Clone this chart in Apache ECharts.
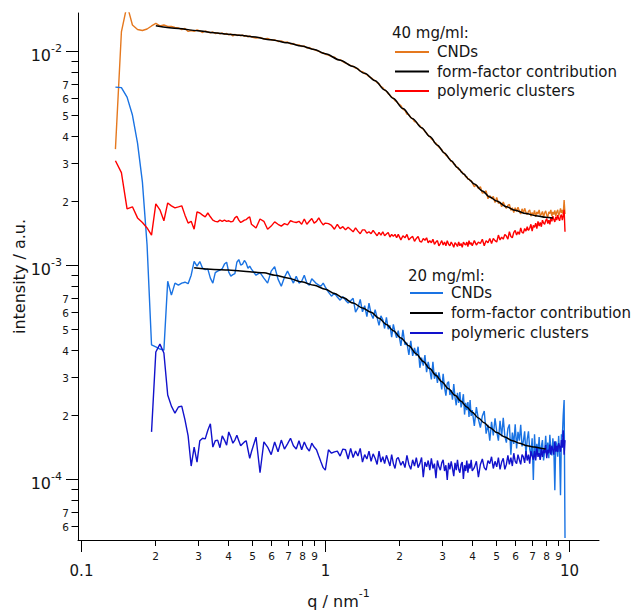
<!DOCTYPE html>
<html><head><meta charset="utf-8">
<script src="https://cdn.jsdelivr.net/npm/echarts@6/dist/echarts.min.js"></script>
<style>html,body{margin:0;padding:0;background:#fff}#chart{width:639px;height:610px}</style>
</head><body><div id="chart"></div>
<script>
// scattering vector q (nm^-1), shared by all measured curves
const q = [0.138,0.146,0.154,0.162,0.17,0.178,0.186,0.194,0.202,0.21,0.218,0.226,0.234,0.242,0.25,0.258,0.266,0.274,0.282,0.29,0.298,0.306,0.314,0.322,0.33,0.338,0.346,0.354,0.362,0.37,0.378,0.386,0.394,0.402,0.41,0.418,0.426,0.434,0.442,0.45,0.458,0.466,0.474,0.482,0.49,0.498,
0.52,0.54,0.56,0.58,0.6,0.62,0.64,0.66,0.68,0.7,0.72,0.74,0.76,0.78,0.8,0.82,0.84,0.86,0.88,0.9,0.92,0.94,0.96,0.98,1,
1.03,1.06,1.09,1.12,1.15,1.18,1.21,1.24,1.27,1.3,1.33,1.36,1.39,1.42,1.45,1.48,1.51,1.54,1.57,1.6,1.63,1.66,1.69,1.72,1.75,1.78,1.81,1.84,1.87,1.9,1.93,1.96,1.99,
2.04,2.08,2.12,2.16,2.2,2.24,2.28,2.32,2.36,2.4,2.44,2.48,2.52,2.56,2.6,2.64,2.68,2.72,2.76,2.8,2.84,2.88,2.92,2.96,3,3.04,3.08,3.12,3.16,3.2,3.24,3.28,3.32,3.36,3.4,3.44,3.48,3.52,3.56,3.6,3.64,3.68,3.72,3.76,3.8,3.84,3.88,3.92,3.96,4,
4.08,4.16,4.24,4.32,4.4,4.48,4.56,4.64,4.72,4.8,4.88,4.96,5.04,5.12,5.2,5.28,5.36,5.44,5.52,5.6,5.68,5.76,5.84,5.92,6,6.08,6.16,6.24,6.32,6.4,6.48,6.56,6.64,6.72,6.8,6.88,6.96,7.04,7.12,7.2,7.28,7.36,7.44,7.52,7.6,7.68,7.76,7.84,7.92,8,8.08,8.16,8.24,8.32,8.4,8.48,8.56,8.64,8.72,8.8,8.88,8.96,9.04,9.12,9.2,9.28,9.36,9.44,9.52,9.6];

// 40 mg/ml: CNDs
const cnd40 = [3.48e-3,1.227e-2,1.64e-2,1.323e-2,1.26e-2,1.247e-2,1.267e-2,1.309e-2,1.345e-2,1.309e-2,
1.323e-2,1.302e-2,1.302e-2,1.288e-2,1.281e-2,1.26e-2,1.274e-2,1.234e-2,1.247e-2,1.234e-2,
1.254e-2,1.24e-2,1.22e-2,1.24e-2,1.227e-2,1.214e-2,1.227e-2,1.207e-2,1.214e-2,1.201e-2,
1.214e-2,1.195e-2,1.207e-2,1.188e-2,1.201e-2,1.176e-2,1.195e-2,1.182e-2,1.188e-2,1.176e-2,
1.188e-2,1.169e-2,1.182e-2,1.163e-2,1.176e-2,1.163e-2,1.15e-2,1.157e-2,1.138e-2,1.144e-2,
1.126e-2,1.126e-2,1.108e-2,1.114e-2,1.096e-2,1.102e-2,1.078e-2,1.084e-2,1.067e-2,1.067e-2,
1.05e-2,1.055e-2,1.033e-2,1.038e-2,1.022e-2,1.016e-2,1.005e-2,1.0e-2,9.82e-3,9.82e-3,
9.66e-3,9.56e-3,9.41e-3,9.36e-3,9.11e-3,9.11e-3,8.92e-3,8.77e-3,8.68e-3,8.54e-3,
8.49e-3,8.31e-3,8.27e-3,8.05e-3,8.01e-3,7.84e-3,7.75e-3,7.59e-3,7.51e-3,7.35e-3,
7.27e-3,7.11e-3,7.04e-3,6.82e-3,6.74e-3,6.56e-3,6.49e-3,6.32e-3,6.22e-3,6.09e-3,
6.02e-3,5.86e-3,5.80e-3,5.68e-3,5.56e-3,5.35e-3,5.27e-3,5.07e-3,5.04e-3,4.88e-3,
4.83e-3,4.68e-3,4.65e-3,4.53e-3,4.48e-3,4.36e-3,4.32e-3,4.20e-3,4.14e-3,4.03e-3,
3.98e-3,3.88e-3,3.84e-3,3.73e-3,3.71e-3,3.62e-3,3.56e-3,3.50e-3,3.46e-3,3.37e-3,
3.34e-3,3.25e-3,3.23e-3,3.16e-3,3.13e-3,3.04e-3,3.04e-3,2.96e-3,2.95e-3,2.87e-3,
2.87e-3,2.79e-3,2.79e-3,2.72e-3,2.72e-3,2.65e-3,2.65e-3,2.58e-3,2.59e-3,2.52e-3,
2.53e-3,2.47e-3,2.48e-3,2.42e-3,2.32e-3,2.37e-3,2.27e-3,2.32e-3,2.17e-3,2.18e-3,
2.22e-3,2.04e-3,2.11e-3,2.04e-3,2.09e-3,1.96e-3,2.07e-3,1.94e-3,1.97e-3,1.87e-3,
1.97e-3,1.89e-3,1.84e-3,1.90e-3,1.92e-3,1.80e-3,1.85e-3,1.76e-3,1.85e-3,1.78e-3,
1.86e-3,1.79e-3,1.73e-3,1.83e-3,1.75e-3,1.84e-3,1.76e-3,1.72e-3,1.78e-3,1.81e-3,
1.69e-3,1.76e-3,1.71e-3,1.80e-3,1.68e-3,1.77e-3,1.73e-3,1.81e-3,1.70e-3,1.73e-3,
1.78e-3,1.67e-3,1.75e-3,1.79e-3,1.71e-3,1.68e-3,1.77e-3,1.74e-3,1.81e-3,1.69e-3,
1.77e-3,1.72e-3,1.80e-3,1.69e-3,1.77e-3,1.81e-3,1.70e-3,1.75e-3,1.84e-3,1.75e-3,
1.81e-3,1.73e-3,2.01e-3,1.73e-3];

// 40 mg/ml: polymeric clusters
const poly40 = [3.07e-3,2.70e-3,1.83e-3,1.87e-3,1.66e-3,1.58e-3,1.49e-3,1.38e-3,1.93e-3,1.81e-3,
1.61e-3,1.95e-3,1.89e-3,1.85e-3,1.87e-3,1.89e-3,1.71e-3,1.57e-3,1.60e-3,1.47e-3,
1.77e-3,1.75e-3,1.71e-3,1.68e-3,1.75e-3,1.68e-3,1.62e-3,1.60e-3,1.59e-3,1.62e-3,
1.60e-3,1.62e-3,1.60e-3,1.61e-3,1.59e-3,1.60e-3,1.66e-3,1.69e-3,1.62e-3,1.58e-3,
1.60e-3,1.62e-3,1.63e-3,1.66e-3,1.68e-3,1.55e-3,1.49e-3,1.64e-3,1.60e-3,1.47e-3,
1.52e-3,1.59e-3,1.55e-3,1.52e-3,1.56e-3,1.54e-3,1.61e-3,1.59e-3,1.58e-3,1.60e-3,
1.55e-3,1.64e-3,1.55e-3,1.60e-3,1.65e-3,1.57e-3,1.60e-3,1.66e-3,1.59e-3,1.54e-3,
1.57e-3,1.56e-3,1.53e-3,1.47e-3,1.55e-3,1.48e-3,1.51e-3,1.46e-3,1.50e-3,1.465e-3,
1.43e-3,1.49e-3,1.44e-3,1.40e-3,1.46e-3,1.46e-3,1.41e-3,1.43e-3,1.40e-3,1.45e-3,
1.41e-3,1.37e-3,1.42e-3,1.38e-3,1.43e-3,1.37e-3,1.395e-3,1.42e-3,1.35e-3,1.39e-3,
1.36e-3,1.39e-3,1.34e-3,1.39e-3,1.31e-3,1.37e-3,1.34e-3,1.39e-3,1.31e-3,1.34e-3,
1.36e-3,1.29e-3,1.33e-3,1.36e-3,1.29e-3,1.28e-3,1.33e-3,1.305e-3,1.34e-3,1.27e-3,
1.30e-3,1.27e-3,1.32e-3,1.25e-3,1.28e-3,1.30e-3,1.23e-3,1.26e-3,1.30e-3,1.24e-3,
1.28e-3,1.23e-3,1.30e-3,1.25e-3,1.23e-3,1.28e-3,1.25e-3,1.21e-3,1.27e-3,1.25e-3,
1.22e-3,1.28e-3,1.23e-3,1.26e-3,1.21e-3,1.28e-3,1.255e-3,1.24e-3,1.28e-3,1.22e-3,
1.30e-3,1.25e-3,1.27e-3,1.23e-3,1.30e-3,1.24e-3,1.28e-3,1.26e-3,1.32e-3,1.23e-3,
1.30e-3,1.27e-3,1.33e-3,1.26e-3,1.33e-3,1.30e-3,1.28e-3,1.38e-3,1.31e-3,1.35e-3,
1.32e-3,1.39e-3,1.365e-3,1.32e-3,1.43e-3,1.36e-3,1.34e-3,1.42e-3,1.45e-3,1.38e-3,
1.43e-3,1.39e-3,1.49e-3,1.42e-3,1.41e-3,1.48e-3,1.44e-3,1.51e-3,1.45e-3,1.485e-3,
1.55e-3,1.44e-3,1.53e-3,1.50e-3,1.57e-3,1.48e-3,1.60e-3,1.52e-3,1.58e-3,1.51e-3,
1.62e-3,1.57e-3,1.55e-3,1.61e-3,1.65e-3,1.56e-3,1.62e-3,1.55e-3,1.66e-3,1.60e-3,
1.69e-3,1.63e-3,1.59e-3,1.68e-3,1.62e-3,1.71e-3,1.65e-3,1.61e-3,1.69e-3,1.72e-3,
1.62e-3,1.70e-3,1.81e-3,1.43e-3];

// 20 mg/ml: CNDs
const cnd20 = [6.78e-3,6.74e-3,6.09e-3,5.02e-3,3.71e-3,2.44e-3,1.24e-3,4.23e-4,4.14e-4,4.05e-4,
4.00e-4,8.40e-4,7.23e-4,8.23e-4,8.05e-4,8.23e-4,8.31e-4,8.18e-4,8.96e-4,1.04e-3,
9.88e-4,1.038e-3,9.66e-4,9.51e-4,9.56e-4,8.68e-4,8.23e-4,9.21e-4,9.36e-4,9.46e-4,
9.61e-4,1.01e-3,1.03e-3,9.26e-4,8.87e-4,9.01e-4,9.11e-4,1.03e-3,1.06e-3,1.00e-3,
1.01e-3,1.05e-3,1.02e-3,9.66e-4,9.88e-4,9.56e-4,8.96e-4,9.21e-4,8.68e-4,8.23e-4,
9.36e-4,9.82e-4,8.59e-4,7.96e-4,8.77e-4,9.36e-4,8.77e-4,8.23e-4,8.87e-4,8.23e-4,
8.40e-4,8.96e-4,8.23e-4,8.05e-4,8.63e-4,8.40e-4,8.18e-4,8.05e-4,7.96e-4,8.23e-4,
7.88e-4,7.47e-4,7.15e-4,7.39e-4,7.08e-4,6.85e-4,7.11e-4,6.85e-4,6.64e-4,6.80e-4,
6.99e-4,6.02e-4,6.31e-4,6.90e-4,6.04e-4,6.45e-4,5.74e-4,6.63e-4,5.91e-4,5.62e-4,
6.19e-4,5.68e-4,5.22e-4,5.79e-4,5.55e-4,5.05e-4,5.70e-4,5.01e-4,5.23e-4,4.60e-4,
5.28e-4,4.85e-4,4.57e-4,4.94e-4,4.19e-4,4.98e-4,4.24e-4,4.33e-4,3.80e-4,4.42e-4,
3.76e-4,4.10e-4,3.76e-4,4.15e-4,3.31e-4,3.69e-4,3.39e-4,3.79e-4,3.16e-4,3.53e-4,
3.24e-4,2.92e-4,3.53e-4,2.94e-4,3.15e-4,2.81e-4,3.15e-4,2.90e-4,2.62e-4,3.10e-4,
2.68e-4,2.45e-4,2.80e-4,2.85e-4,2.47e-4,2.60e-4,2.35e-4,2.78e-4,2.41e-4,2.21e-4,
2.53e-4,2.27e-4,2.55e-4,2.16e-4,2.28e-4,2.49e-4,2.00e-4,2.27e-4,2.10e-4,2.29e-4,
1.95e-4,2.34e-4,1.97e-4,2.10e-4,1.77e-4,2.17e-4,1.90e-4,1.74e-4,1.97e-4,2.08e-4,
1.63e-4,1.79e-4,1.51e-4,1.85e-4,1.60e-4,1.92e-4,1.67e-4,1.51e-4,1.87e-4,1.58e-4,
1.93e-4,1.59e-4,1.48e-4,1.72e-4,1.80e-4,1.30e-4,1.65e-4,1.46e-4,1.80e-4,1.39e-4,
1.66e-4,1.51e-4,1.79e-4,1.42e-4,1.50e-4,1.67e-4,1.30e-4,1.53e-4,1.67e-4,1.38e-4,
1.29e-4,1.55e-4,9.9e-5,1.62e-4,1.27e-4,1.46e-4,1.30e-4,1.57e-4,1.23e-4,1.42e-4,
1.52e-4,1.22e-4,1.34e-4,1.59e-4,1.30e-4,1.48e-4,1.25e-4,1.61e-4,1.36e-4,1.29e-4,
1.55e-4,1.38e-4,8.87e-5,1.50e-4,1.44e-4,1.27e-4,1.59e-4,1.32e-4,8.40e-5,1.62e-4,
1.57e-4,1.99e-4,2.34e-4,5.30e-5];

// 20 mg/ml: polymeric clusters
const poly20 = [null,null,null,null,null,null,null,1.66e-4,3.92e-4,4.27e-4,
3.88e-4,2.47e-4,2.19e-4,2.03e-4,2.17e-4,2.19e-4,1.89e-4,1.59e-4,1.15e-4,1.41e-4,
1.20e-4,1.51e-4,1.55e-4,1.54e-4,1.69e-4,1.81e-4,1.41e-4,1.51e-4,1.52e-4,1.40e-4,
1.59e-4,1.52e-4,1.44e-4,1.66e-4,1.57e-4,1.47e-4,1.52e-4,1.60e-4,1.51e-4,1.43e-4,
1.46e-4,1.49e-4,1.51e-4,1.37e-4,1.25e-4,1.34e-4,1.57e-4,1.07e-4,1.49e-4,1.41e-4,
1.30e-4,1.49e-4,1.34e-4,1.52e-4,1.38e-4,1.46e-4,1.55e-4,1.43e-4,1.38e-4,1.51e-4,
1.37e-4,1.49e-4,1.40e-4,1.35e-4,1.47e-4,1.41e-4,1.37e-4,1.28e-4,1.20e-4,1.13e-4,
1.10e-4,1.37e-4,1.32e-4,1.34e-4,1.35e-4,1.28e-4,1.38e-4,1.37e-4,1.24e-4,1.39e-4,
1.26e-4,1.35e-4,1.28e-4,1.39e-4,1.20e-4,1.30e-4,1.24e-4,1.35e-4,1.21e-4,1.31e-4,
1.25e-4,1.17e-4,1.35e-4,1.20e-4,1.27e-4,1.18e-4,1.29e-4,1.22e-4,1.15e-4,1.30e-4,
1.18e-4,1.12e-4,1.24e-4,1.26e-4,1.16e-4,1.21e-4,1.13e-4,1.29e-4,1.17e-4,1.11e-4,
1.23e-4,1.15e-4,1.26e-4,1.13e-4,1.18e-4,1.26e-4,1.02e-4,1.20e-4,1.14e-4,1.22e-4,
1.10e-4,1.25e-4,1.12e-4,1.18e-4,1.01e-4,1.22e-4,1.14e-4,1.10e-4,1.19e-4,1.23e-4,
1.09e-4,1.16e-4,9.9e-5,1.19e-4,1.11e-4,1.21e-4,1.12e-4,1.03e-4,1.19e-4,1.10e-4,
1.23e-4,1.11e-4,1.07e-4,1.17e-4,1.20e-4,1.00e-4,1.16e-4,1.09e-4,1.22e-4,1.07e-4,
1.18e-4,1.12e-4,1.23e-4,1.09e-4,1.13e-4,1.21e-4,1.02e-4,1.17e-4,1.24e-4,1.13e-4,
1.10e-4,1.22e-4,1.18e-4,1.27e-4,1.12e-4,1.21e-4,1.14e-4,1.26e-4,1.11e-4,1.20e-4,
1.25e-4,1.11e-4,1.17e-4,1.29e-4,1.17e-4,1.26e-4,1.15e-4,1.32e-4,1.21e-4,1.18e-4,
1.30e-4,1.23e-4,1.17e-4,1.30e-4,1.27e-4,1.19e-4,1.35e-4,1.22e-4,1.30e-4,1.18e-4,
1.35e-4,1.28e-4,1.23e-4,1.35e-4,1.22e-4,1.40e-4,1.27e-4,1.32e-4,1.23e-4,1.39e-4,
1.27e-4,1.37e-4,1.32e-4,1.44e-4,1.25e-4,1.37e-4,1.32e-4,1.45e-4,1.30e-4,1.43e-4,
1.37e-4,1.30e-4,1.50e-4,1.34e-4,1.43e-4,1.34e-4,1.47e-4,1.42e-4,1.34e-4,1.52e-4,
1.40e-4,1.69e-4,1.30e-4,1.52e-4];

// form-factor contributions (fits)
const fitQ40 = [0.202,0.25,0.3,0.35,0.4,0.45,0.5,0.6,0.7,0.8,0.9,1,1.15,1.3,1.45,1.6,1.75,1.9,2.08,2.28,2.48,2.68,2.88,3.08,3.28,3.48,3.68,3.88,4.08,4.4,4.72,5.04,5.52,6,6.64,7.28,8,8.56];
const fit40 = [1.312e-2,1.274e-2,1.243e-2,1.218e-2,1.199e-2,1.183e-2,1.167e-2,1.129e-2,1.092e-2,1.055e-2,1.016e-2,9.70e-3,9.06e-3,8.46e-3,7.86e-3,7.26e-3,6.58e-3,6.00e-3,5.38e-3,4.83e-3,4.38e-3,3.98e-3,3.63e-3,3.33e-3,3.07e-3,2.85e-3,2.67e-3,2.51e-3,2.39e-3,2.22e-3,2.08e-3,1.99e-3,1.87e-3,1.80e-3,1.74e-3,1.70e-3,1.67e-3,1.66e-3];
const fitQ20 = [0.29,0.35,0.4,0.45,0.5,0.56,0.62,0.7,0.8,0.9,1,1.09,1.18,1.3,1.42,1.54,1.66,1.78,1.9,2.04,2.2,2.36,2.52,2.68,2.84,3,3.2,3.4,3.6,3.8,4,4.24,4.48,4.72,5.04,5.44,5.84,6.24,6.72,7.2,7.76,8];
const fit20 = [9.70e-4,9.53e-4,9.47e-4,9.37e-4,9.28e-4,9.19e-4,8.96e-4,8.70e-4,8.34e-4,8.04e-4,7.70e-4,7.36e-4,7.04e-4,6.64e-4,6.30e-4,6.01e-4,5.64e-4,5.27e-4,4.93e-4,4.56e-4,4.19e-4,3.84e-4,3.54e-4,3.28e-4,3.05e-4,2.85e-4,2.64e-4,2.46e-4,2.31e-4,2.17e-4,2.05e-4,1.93e-4,1.83e-4,1.74e-4,1.65e-4,1.57e-4,1.51e-4,1.47e-4,1.43e-4,1.41e-4,1.39e-4,1.38e-4];

// axis ticks and labels
const xTickValues = [0.1,0.2,0.3,0.4,0.5,0.6,0.7,0.8,0.9,1,2,3,4,5,6,7,8,9,10];
const xTickLabels = ['0.1','2','3','4','5','6','7','8','9','1','2','3','4','5','6','7','8','9','10'];
const xTickMajor = [1,0,0,0,0,0,0,0,0,1,0,0,0,0,0,0,0,0,1];
const yTickValues = [6e-5,7e-5,8e-5,9e-5,1e-4,2e-4,3e-4,4e-4,5e-4,6e-4,7e-4,8e-4,9e-4,1e-3,2e-3,3e-3,4e-3,5e-3,6e-3,7e-3,8e-3,9e-3,1e-2];
const yTickLabels = ['6','7','','','10{s|-4}','2','3','4','5','6','7','','','10{s|-3}','2','3','4','5','6','7','','','10{s|-2}'];
const yTickMajor = [0,0,0,0,1,0,0,0,0,0,0,0,0,1,0,0,0,0,0,0,0,0,1];

const X_MIN = 0.09693, X_MAX = 13.23, Y_MIN = 5.188e-5, Y_MAX = 0.01505;
const FONT = 'DejaVu Sans';
const TXT = '#151515';
const C_ORANGE = '#E5781E', C_RED = '#FF0000', C_LBLUE = '#1A73E3', C_DBLUE = '#1212CC', C_BLACK = '#000000';

function pairs(xs, ys) {
  const out = [];
  for (let i = 0; i < xs.length; i++) if (ys[i] != null) out.push([xs[i], ys[i]]);
  return out;
}

const chart = echarts.init(document.getElementById('chart'), null, {renderer: 'svg'});

function lineSeries(name, data, color, width, z, smooth) {
  return {
    type: 'line', name, data, symbol: 'none', showSymbol: false, z,
    smooth: smooth ? 0.3 : false, smoothMonotone: smooth ? 'x' : undefined,
    lineStyle: {color, width}, itemStyle: {color},
    emphasis: {disabled: true}, silent: true, animation: false
  };
}

const supRich = {s: {fontSize: 11, fontFamily: FONT, color: TXT, fill: TXT, verticalAlign: 'top', lineHeight: 11}};

const option = {
  animation: false,
  backgroundColor: '#fff',
  grid: {left: 78, top: 13, right: 40, bottom: 70, containLabel: false, outerBoundsMode: 'none'},
  xAxis: {
    type: 'log', logBase: 10, min: X_MIN, max: X_MAX,
    axisLine: {show: true, onZero: false, lineStyle: {color: '#000', width: 1}},
    axisTick: {show: false}, axisLabel: {show: false}, splitLine: {show: false},
    name: 'q / nm{s|-1}', nameLocation: 'middle', nameGap: 48,
    nameTextStyle: {fontSize: 16, fontFamily: FONT, color: TXT, lineHeight: 26, rich: supRich}
  },
  yAxis: {
    type: 'log', logBase: 10, min: Y_MIN, max: Y_MAX,
    axisLine: {show: true, onZero: false, lineStyle: {color: '#000', width: 1}},
    axisTick: {show: false}, axisLabel: {show: false}, splitLine: {show: false},
    name: 'intensity / a.u.', nameLocation: 'middle', nameGap: 51, nameRotate: 90,
    nameTextStyle: {fontSize: 16, fontFamily: FONT, color: TXT}
  },
  legend: [
    {
      data: ['CNDs (40 mg/ml)', 'form-factor contribution (40 mg/ml)', 'polymeric clusters (40 mg/ml)'],
      orient: 'vertical', left: 395, top: 44.5, padding: 0, itemGap: 4.5,
      itemWidth: 34, itemHeight: 2, icon: 'rect', selectedMode: false,
      formatter: n => n.replace(/ \(.*\)$/, ''),
      textStyle: {fontSize: 15, fontFamily: FONT, color: TXT, padding: [0, 0, 0, 3]}
    },
    {
      data: ['CNDs (20 mg/ml)', 'form-factor contribution (20 mg/ml)', 'polymeric clusters (20 mg/ml)'],
      orient: 'vertical', left: 410, top: 285.5, padding: 0, itemGap: 5,
      itemWidth: 33, itemHeight: 2, icon: 'rect', selectedMode: false,
      formatter: n => n.replace(/ \(.*\)$/, ''),
      textStyle: {fontSize: 15, fontFamily: FONT, color: TXT, padding: [0, 0, 0, 3]}
    }
  ],
  graphic: [
    {type: 'text', left: 392, top: 25, silent: true, style: {text: '40 mg/ml:', fontSize: 15, fontFamily: FONT, fill: TXT}},
    {type: 'text', left: 408, top: 268.5, silent: true, style: {text: '20 mg/ml:', fontSize: 15, fontFamily: FONT, fill: TXT}}
  ],
  series: [
    lineSeries('CNDs (40 mg/ml)', pairs(q, cnd40), C_ORANGE, 1.4, 2),
    lineSeries('polymeric clusters (40 mg/ml)', pairs(q, poly40), C_RED, 1.4, 3),
    lineSeries('form-factor contribution (40 mg/ml)', pairs(fitQ40, fit40), C_BLACK, 1.5, 4, true),
    lineSeries('CNDs (20 mg/ml)', pairs(q, cnd20), C_LBLUE, 1.4, 2),
    lineSeries('polymeric clusters (20 mg/ml)', pairs(q, poly20), C_DBLUE, 1.4, 3),
    lineSeries('form-factor contribution (20 mg/ml)', pairs(fitQ20, fit20), C_BLACK, 1.5, 4, true),
    {
      type: 'custom', name: 'xticks', silent: true, clip: false, z: 10, animation: false,
      data: xTickValues.map((v, i) => [v, Y_MIN, i]),
      encode: {x: 0, y: 1},
      renderItem: (params, api) => {
        const i = api.value(2);
        const p = api.coord([api.value(0), Y_MIN]);
        const x = Math.round(p[0]) + 0.5, y = p[1];
        const major = xTickMajor[i] === 1;
        const children = [{type: 'line', shape: {x1: x, y1: y, x2: x, y2: y + (major ? 12 : 6)}, style: {stroke: '#000', lineWidth: 1}}];
        children.push({type: 'text', x: x, y: y + (major ? 31 : 16),
          style: {text: xTickLabels[i], fontSize: major ? 15 : 10.5, fontFamily: FONT, fill: TXT, align: 'center', verticalAlign: 'middle'}});
        return {type: 'group', children};
      }
    },
    {
      type: 'custom', name: 'yticks', silent: true, clip: false, z: 10, animation: false,
      data: yTickValues.map((v, i) => [X_MIN, v, i]),
      encode: {x: 0, y: 1},
      renderItem: (params, api) => {
        const i = api.value(2);
        const p = api.coord([X_MIN, api.value(1)]);
        const x = p[0], y = Math.round(p[1]) + 0.5;
        const major = yTickMajor[i] === 1;
        const children = [{type: 'line', shape: {x1: x - (major ? 12 : 6.5), y1: y, x2: x, y2: y}, style: {stroke: '#000', lineWidth: 1}}];
        const lab = yTickLabels[i];
        if (lab) {
          if (major) {
            children.push({type: 'text', x: x - 16, y: y + 4,
              style: {text: lab, fontSize: 16, fontFamily: FONT, fill: TXT, lineHeight: 26, align: 'right', verticalAlign: 'middle',
                rich: {s: {fontSize: 11, fontFamily: FONT, fill: TXT, verticalAlign: 'top', lineHeight: 12}}}});
          } else {
            children.push({type: 'text', x: x - 9, y: y,
              style: {text: lab, fontSize: 10.5, fontFamily: FONT, fill: TXT, align: 'right', verticalAlign: 'middle'}});
          }
        }
        return {type: 'group', children};
      }
    }
  ]
};
chart.setOption(option);
</script>
</body></html>
